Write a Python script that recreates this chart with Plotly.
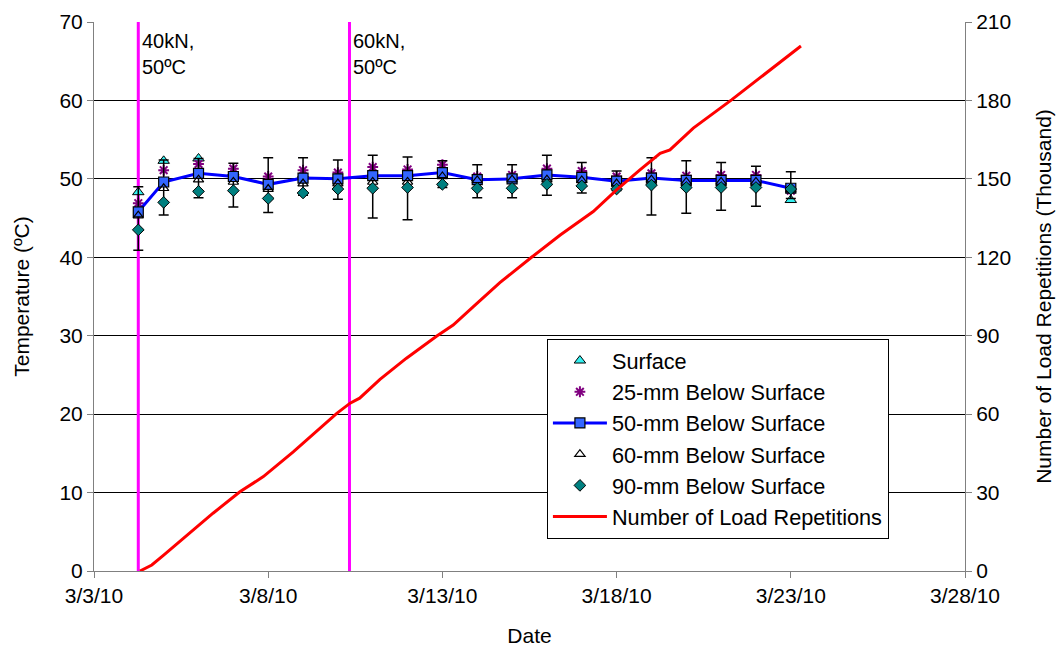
import plotly.graph_objects as go

# Temperature readings (ºC) at each sensor depth
temp_dates = ["2010-03-04 06:30"] + [f"2010-03-{d:02d}" for d in range(5, 24)]
surface = [48.3, 52.3, 52.6, 50.8, 49.8, 50.5, 50.4, 50.7, 50.6, 51.0,
           50.1, 50.2, 50.7, 50.5, 49.9, 50.4, 50.0, 50.0, 50.0, 47.3]
depth_25 = [46.9, 51.1, 51.9, 51.3, 50.3, 51.1, 50.8, 51.5, 51.2, 51.8,
            50.3, 50.5, 51.3, 51.0, 50.3, 50.7, 50.4, 50.5, 50.5, 48.5]
depth_50 = [45.8, 49.6, 50.7, 50.3, 49.3, 50.1, 50.0, 50.4, 50.4, 50.8,
            49.9, 50.0, 50.5, 50.2, 49.7, 50.1, 49.8, 49.8, 49.8, 48.8]
depth_60 = [45.3, 48.8, 49.9, 49.6, 48.7, 49.4, 49.4, 49.6, 49.6, 50.3,
            49.8, 49.9, 49.9, 49.8, 49.4, 49.9, 49.6, 49.6, 49.6, 48.6]
depth_90 = [43.5, 47.0, 48.4, 48.5, 47.5, 48.2, 48.7, 48.8, 48.9, 49.3,
            48.8, 48.8, 49.3, 49.1, 48.7, 49.2, 48.9, 48.9, 48.9, 48.7]
# daily temperature range shown as error bars on the 50-mm series
temp_high = [49.0, 52.4, 52.6, 52.0, 52.7, 52.7, 52.4, 53.0, 52.8, 52.3,
             51.8, 51.8, 53.0, 52.1, 51.0, 52.7, 52.3, 52.1, 51.6, 50.9]
temp_low = [40.9, 45.4, 47.6, 46.4, 45.7, 47.9, 47.4, 45.0, 44.8, 48.9,
            47.6, 47.6, 47.9, 48.2, 48.5, 45.4, 45.6, 46.0, 46.5, 47.5]

# Cumulative load repetitions (thousand)
load_dates = ["2010-03-04 07:40", "2010-03-04 15:50", "2010-03-05 00:00",
              "2010-03-06 10:00", "2010-03-07 04:30", "2010-03-07 20:40",
              "2010-03-08 17:15", "2010-03-09 09:20", "2010-03-09 23:15",
              "2010-03-10 08:25", "2010-03-10 15:00", "2010-03-11 05:00",
              "2010-03-11 23:15", "2010-03-12 20:10", "2010-03-13 07:25",
              "2010-03-13 21:20", "2010-03-14 15:35", "2010-03-15 13:25",
              "2010-03-16 09:10", "2010-03-17 07:55", "2010-03-18 00:00",
              "2010-03-18 16:05", "2010-03-19 06:00", "2010-03-19 12:45",
              "2010-03-20 04:50", "2010-03-21 07:10", "2010-03-23 07:00"]
load_reps = [0.0, 2.3, 6.1, 22.1, 30.3, 36.1, 45.6, 53.3, 60.3, 64.2, 66.1,
             73.3, 81.4, 89.9, 94.1, 101.1, 110.3, 120.0, 128.5, 137.5, 145.8,
             153.4, 159.8, 161.1, 169.4, 180.2, 200.8]

# Loading stage changes
stage_dates = ["2010-03-04 06:30", "2010-03-10 08:00"]
stage_labels = ["40kN,<br>50ºC", "60kN,<br>50ºC"]

tick_dates = ["2010-03-03", "2010-03-08", "2010-03-13", "2010-03-18",
              "2010-03-23", "2010-03-28"]
tick_text = ["3/3/10", "3/8/10", "3/13/10", "3/18/10", "3/23/10", "3/28/10"]

FONT = "Liberation Sans, Arial, sans-serif"

fig = go.Figure()

for d in stage_dates:
    fig.add_trace(go.Scatter(x=[d, d], y=[0, 70], mode="lines",
                             line=dict(color="#FF00FF", width=3),
                             showlegend=False, hoverinfo="skip"))

fig.add_trace(go.Scatter(
    x=temp_dates, y=surface, mode="markers", name="Surface",
    marker=dict(symbol="triangle-up", size=10, color="#33F0F0",
                line=dict(color="black", width=1))))
fig.add_trace(go.Scatter(
    x=temp_dates, y=depth_25, mode="markers", name="25-mm Below Surface",
    marker=dict(symbol="asterisk-open", size=9, color="#800080",
                line=dict(color="#800080", width=2))))
fig.add_trace(go.Scatter(
    x=temp_dates, y=depth_50, mode="lines+markers", name="50-mm Below Surface",
    line=dict(color="#0000FF", width=3),
    marker=dict(symbol="square", size=10, color="#3366FF",
                line=dict(color="black", width=1.2)),
    error_y=dict(type="data", symmetric=False,
                 array=[h - v for h, v in zip(temp_high, depth_50)],
                 arrayminus=[v - l for v, l in zip(depth_50, temp_low)],
                 color="black", thickness=1.5, width=5)))
fig.add_trace(go.Scatter(
    x=temp_dates, y=depth_60, mode="markers", name="60-mm Below Surface",
    marker=dict(symbol="triangle-up-open", size=9, color="black",
                line=dict(color="black", width=1.2))))
fig.add_trace(go.Scatter(
    x=temp_dates, y=depth_90, mode="markers", name="90-mm Below Surface",
    marker=dict(symbol="diamond", size=9, color="#008080",
                line=dict(color="black", width=1))))
fig.add_trace(go.Scatter(
    x=load_dates, y=load_reps, mode="lines", name="Number of Load Repetitions",
    line=dict(color="#FF0000", width=3), yaxis="y2"))

for d, t in zip(stage_dates, stage_labels):
    fig.add_annotation(x=d, y=1, xref="x", yref="paper", text=t,
                       xanchor="left", yanchor="top", showarrow=False,
                       xshift=2, yshift=-6, align="left",
                       font=dict(size=20, color="black", family=FONT))

axis_common = dict(showline=True, linecolor="#808080", linewidth=1,
                   ticks="outside", ticklen=6, tickcolor="#808080",
                   tickfont=dict(size=21, color="black", family=FONT),
                   zeroline=False, automargin=False)

fig.update_layout(
    width=1060, height=650,
    margin=dict(l=94, r=95, t=22, b=79),
    paper_bgcolor="white", plot_bgcolor="white",
    font=dict(family=FONT, size=21, color="black"),
    xaxis=dict(type="date", range=["2010-03-03", "2010-03-28"],
               tickvals=tick_dates, ticktext=tick_text, showgrid=False,
               title=dict(text="Date", font=dict(size=21), standoff=22),
               **axis_common),
    yaxis=dict(range=[0, 70], dtick=10, showgrid=True, gridcolor="black",
               gridwidth=1,
               title=dict(text="Temperature (ºC)", font=dict(size=21),
                          standoff=24),
               **axis_common),
    yaxis2=dict(range=[0, 210], dtick=30, overlaying="y", side="right",
                showgrid=False,
                title=dict(text="Number of Load Repetitions (Thousand)",
                           font=dict(size=21), standoff=26),
                **axis_common),
    legend=dict(x=0.52, y=0.4227, xanchor="left", yanchor="top",
                bgcolor="white", bordercolor="black", borderwidth=1,
                font=dict(size=21.7, family=FONT), itemwidth=54,
                traceorder="normal"),
    showlegend=True,
)

fig.write_html("out.html")
